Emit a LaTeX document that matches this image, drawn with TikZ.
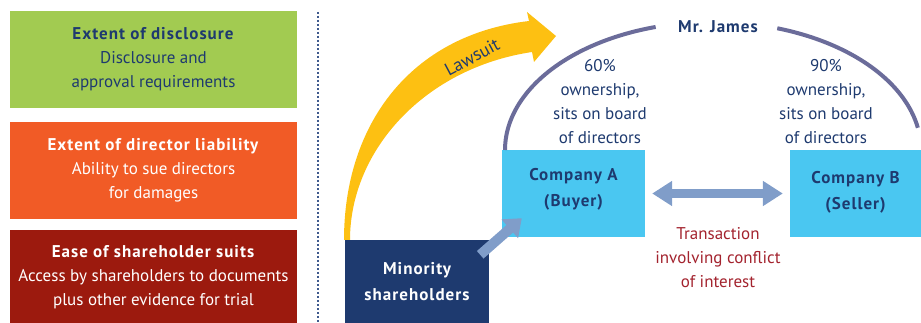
\documentclass[tikz,border=0pt]{standalone}
\usepackage{fontspec}
\setmainfont{PT Sans}[BoldFeatures={LetterSpace=6}]
\usetikzlibrary{arrows.meta,calc}
\definecolor{cgreen}{HTML}{A2CB51}
\definecolor{corange}{HTML}{F15B26}
\definecolor{cdred}{HTML}{9C1A0E}
\definecolor{cnavy}{HTML}{1E3A6F}
\definecolor{clblue}{HTML}{4AC7F1}
\definecolor{carc}{HTML}{6B6C9A}
\definecolor{carrow}{HTML}{809DC9}
\definecolor{cyellow}{HTML}{FDC012}
\definecolor{ctext}{HTML}{A3232E}
\definecolor{cdot}{HTML}{3F5A8E}
\tikzset{
  leftbox/.style={minimum width=287pt, inner sep=0pt, align=center, font=\fontsize{17}{24}\selectfont},
  compbox/.style={fill=clblue, inner sep=0pt},
  boxtext/.style={align=center, text=cnavy, inner sep=0pt, font=\bfseries\fontsize{17}{26}\selectfont},
  note/.style={align=center, text=cnavy, font=\fontsize{17}{24}\selectfont},
}
\begin{document}
\begin{tikzpicture}[x=1pt,y=-1pt]
\useasboundingbox (0,0) rectangle (921,323);
\clip (0,0) rectangle (921,323);
% left boxes
\node[leftbox, fill=cgreen, minimum height=97pt, text=cnavy] (disc) at (153.5,59.5)
  {\textbf{Extent of disclosure}\\Disclosure and\\approval requirements};
\node[leftbox, fill=corange, minimum height=97pt, text=white] (liab) at (153.5,170.5)
  {\textbf{Extent of director liability}\\Ability to sue directors\\for damages};
\node[leftbox, fill=cdred, minimum height=94pt, text=white] (suits) at (153.5,277)
  {\textbf{Ease of shareholder suits}\\Access by shareholders to documents\\plus other evidence for trial};
% divider
\coordinate (dtop) at (318,12);
\coordinate (dbot) at (318,323);
\draw[cdot, line width=2pt, dash pattern=on 2pt off 2pt] (dtop) -- (dbot);
% lawsuit arrow
\fill[cyellow] (344,240) .. controls (344,125) and (410,35) .. (529,21)
  -- (527,12) -- (556,36) -- (534,62) -- (532,52)
  .. controls (425,68) and (350,150) .. (350,240) -- cycle;
\node[text=cnavy, rotate=28, inner sep=0pt, font=\fontsize{18}{20}\selectfont] (law) at (472,57) {Lawsuit};
% boxes
\node[fill=cnavy, minimum width=144pt, minimum height=83pt, inner sep=0pt, align=center, text=white, font=\bfseries\fontsize{17}{26}\selectfont] (min) at (417,281.5) {Minority\\shareholders};
\node[compbox, minimum width=143pt, minimum height=87pt] (ca) at (573.5,193.5) {};
\node[boxtext] (catext) at ($(ca)+(0,-4)$) {Company A\\(Buyer)};
\node[compbox, minimum width=131pt, minimum height=87pt] (cb) at (855.5,193.5) {};
\node[boxtext] (cbtext) at ($(cb)+(0,-1)$) {Company B\\(Seller)};
% Mr James arc
\node[text=cnavy, font=\bfseries\fontsize{17}{20}\selectfont] (james) at (718,27) {Mr. James};
\coordinate (arcA) at (ca.north west);
\draw[carc, line width=4pt] plot[domain=180:254, samples=50] ({713+208*cos(\x)}, {150+128*sin(\x)});
\draw[carc, line width=4pt] plot[domain=288:350, samples=50] ({713+208*cos(\x)}, {150+128*sin(\x)});
% notes
\node[note] (n60) at (600,102) {60\%\\ownership,\\sits on board\\of directors};
\node[note] (n90) at (826,102) {90\%\\ownership,\\sits on board\\of directors};
\node[note, text=ctext] (trans) at (718,258) {Transaction\\involving conflict\\of interest};
% arrows
\draw[carrow, line width=9pt, {Triangle[length=20pt,width=24pt]}-{Triangle[length=20pt,width=24pt]}] ($(ca.east)+(7,0)$) -- ($(cb.west)+(-7,0)$);
\draw[carrow, line width=10pt, -{Triangle[length=16pt,width=24pt]}] ($(min.north east)+(-9,15)$) -- ($(ca.south west)+(20,-19)$);
\end{tikzpicture}
\end{document}
